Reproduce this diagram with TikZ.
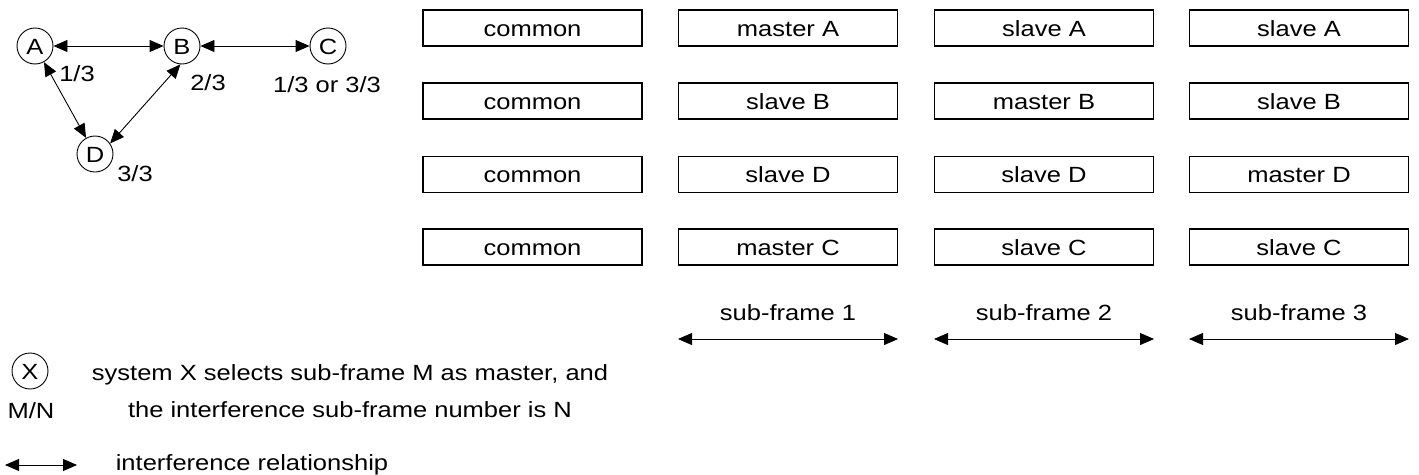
\documentclass[tikz,border=0pt]{standalone}
\usepackage{fontspec}
\setmainfont[FakeStretch=1.16]{Liberation Sans}
\usetikzlibrary{arrows.meta}
\begin{document}
\begin{tikzpicture}[x=1pt,y=-1pt, font=\fontsize{22}{26}\selectfont,
  txt/.style={text height=16pt, text depth=0pt},
  box/.style={txt, draw, line width=1.1pt, minimum width=219pt, minimum height=36pt, inner sep=0pt},
  sys/.style={txt, draw, circle, minimum size=36pt, inner sep=0pt, line width=0.9pt},
  lbl/.style={txt, inner sep=0pt},
  rel/.style={line width=0.9pt, {Triangle[length=14pt,width=12pt]}-{Triangle[length=14pt,width=12pt]}}]
\useasboundingbox (0,0) rectangle (1419,474);

% interference graph
\node[sys] (A) at (35,46) {A};
\node[sys] (B) at (182,46) {B};
\node[sys] (C) at (328,46) {C};
\node[sys] (D) at (95,154) {D};
\node[lbl] (lA) at (77,73) {1/3};
\node[lbl] (lB) at (208,82) {2/3};
\node[lbl] (lC) at (327,84) {1/3 or 3/3};
\node[lbl] (lD) at (135,173) {3/3};
\draw[rel] (A) -- (B);
\draw[rel] (B) -- (C);
\draw[rel] (A) -- (D);
\draw[rel] (B.265) -- (D.35);

% sub-frame table
\foreach \r/\y in {1/28,2/101,3/174.5,4/247}{
  \node[box] (c\r) at (532.5,\y) {common};
}
\node[box] (m1) at (788,28) {master A};
\node[box] (m2) at (788,101) {slave B};
\node[box] (m3) at (788,174.5) {slave D};
\node[box] (m4) at (788,247) {master C};
\node[box] (n1) at (1044,28) {slave A};
\node[box] (n2) at (1044,101) {master B};
\node[box] (n3) at (1044,174.5) {slave D};
\node[box] (n4) at (1044,247) {slave C};
\node[box] (p1) at (1299,28) {slave A};
\node[box] (p2) at (1299,101) {slave B};
\node[box] (p3) at (1299,174.5) {master D};
\node[box] (p4) at (1299,247) {slave C};

\node[lbl] (s1) at (788,312) {sub-frame 1};
\node[lbl] (s2) at (1044,312) {sub-frame 2};
\node[lbl] (s3) at (1299,312) {sub-frame 3};
\coordinate (s1a) at (678,339); \coordinate (s1b) at (898,339);
\coordinate (s2a) at (934,339); \coordinate (s2b) at (1154,339);
\coordinate (s3a) at (1189,339); \coordinate (s3b) at (1409,339);
\draw[rel] (s1a) -- (s1b);
\draw[rel] (s2a) -- (s2b);
\draw[rel] (s3a) -- (s3b);

% legend
\node[sys] (X) at (30,371) {X};
\node[lbl] (MN) at (31,410) {M/N};
\node[inner sep=0pt, align=center, font=\fontsize{22}{37}\selectfont] (lg) at (350,391.5)
  {system X selects sub-frame M as master, and\\the interference sub-frame number is N};
\coordinate (r1) at (5,465); \coordinate (r2) at (77,465);
\draw[rel] (r1) -- (r2);
\node[lbl] (rt) at (252,462) {interference relationship};
\end{tikzpicture}
\end{document}
